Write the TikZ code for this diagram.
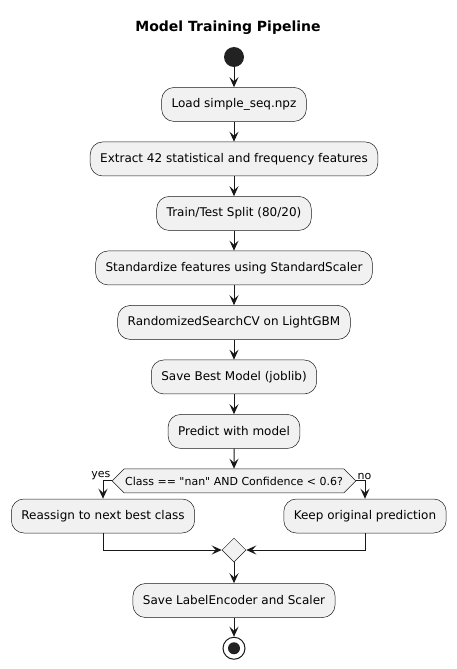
\documentclass[tikz,border=0pt]{standalone}
\usepackage{fontspec}
\setmainfont{DejaVu Sans}
\newfontfamily\umlfont{DejaVu Sans}
\usetikzlibrary{arrows.meta}
\usetikzlibrary{positioning,shapes.geometric,shapes.symbols}

\definecolor{umlline}{HTML}{181818}
\definecolor{umlfill}{HTML}{F1F1F1}
\definecolor{umldot}{HTML}{222222}

\tikzset{
  act/.style={draw=umlline, line width=0.5pt, fill=umlfill, rounded corners=12.5pt,
    minimum height=34pt, inner xsep=10pt, font=\fontsize{12}{14}\selectfont},
  flow/.style={-{Stealth[length=10pt,width=9pt,inset=4pt]}, draw=umlline, line width=1pt},
  decide/.style={draw=umlline, line width=0.5pt, fill=umlfill, shape=signal,
    signal to=west and east, signal pointer angle=90, minimum height=24pt,
    inner xsep=1pt, inner ysep=0pt, font=\umlfont\fontsize{11}{13}\selectfont},
  merge/.style={draw=umlline, line width=0.5pt, fill=umlfill, diamond,
    minimum size=24pt, inner sep=0pt},
  startdot/.style={circle, fill=umldot, minimum size=20pt, inner sep=0pt},
  stopdot/.style={circle, draw=umlline, line width=1pt, fill=white, minimum size=22pt,
    inner sep=0pt, path picture={\fill[umldot] (path picture bounding box.center) circle (6pt);}},
  branch/.style={font=\fontsize{11}{12}\selectfont, inner sep=1pt}
}

\begin{document}
\begin{tikzpicture}[x=1pt,y=-1pt,node distance=20pt]
\useasboundingbox (0,0) rectangle (456,669);

\node[font=\bfseries\fontsize{14}{16}\selectfont] (title) at (228,28) {Model Training Pipeline};
\node[startdot] (start) at (234,57) {};
\node[act, below=of start] (load) {Load simple\_seq.npz};
\node[act, below=of load] (extract) {Extract 42 statistical and frequency features};
\node[act, below=of extract] (split) {Train/Test Split (80/20)};
\node[act, below=of split] (scale) {Standardize features using StandardScaler};
\node[act, below=of scale] (search) {RandomizedSearchCV on LightGBM};
\node[act, below=of search] (savemodel) {Save Best Model (joblib)};
\node[act, below=of savemodel] (predict) {Predict with model};
\node[decide, below=of predict] (check) {Class == "nan" AND Confidence < 0.6?};
\node[act] (reassign) at (103,516) {Reassign to next best class};
\node[act] (keep) at (365,516) {Keep original prediction};
\node[merge] (join) at (234,550) {};
\node[act, below=21pt of join] (saveenc) {Save LabelEncoder and Scaler};
\node[stopdot, below=19pt of saveenc] (stop) {};

% main line
\draw[flow] (start) -- (load);
\draw[flow] (load) -- (extract);
\draw[flow] (extract) -- (split);
\draw[flow] (split) -- (scale);
\draw[flow] (scale) -- (search);
\draw[flow] (search) -- (savemodel);
\draw[flow] (savemodel) -- (predict);
\draw[flow] (predict) -- (check);

% branches
\draw[flow] (check.west) node[branch, above left] {yes} -| (reassign.north);
\draw[flow] (check.east) node[branch, above right] {no} -| (keep.north);
\draw[flow] (reassign.south) |- (join.west);
\draw[flow] (keep.south) |- (join.east);

\draw[flow] (join) -- (saveenc);
\draw[flow] (saveenc) -- (stop);
\end{tikzpicture}
\end{document}
